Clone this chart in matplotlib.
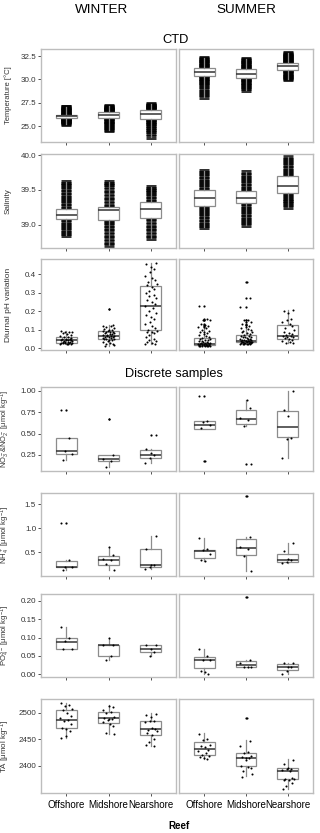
#!/usr/bin/env python3
import matplotlib
import matplotlib.pyplot as plt

matplotlib.use("Agg")

plt.rcParams["font.family"] = ["Liberation Sans", "DejaVu Sans"]
plt.rcParams["mathtext.fontset"] = "custom"
plt.rcParams["mathtext.rm"] = "Liberation Sans"
plt.rcParams["mathtext.it"] = "Liberation Sans:italic"
plt.rcParams["mathtext.bf"] = "Liberation Sans:bold"

REEFS = ["Offshore", "Midshore", "Nearshore"]
SEASONS = ["WINTER", "SUMMER"]

# group order in every list: winter off/mid/near, summer off/mid/near

# CTD: dense clouds, values read as quantiles of each cloud
temp_points = [
    [25.2, 25.3, 25.4, 25.5, 25.6, 25.7, 25.78, 25.82, 25.88, 25.94, 26.0, 26.03, 26.07,
     26.12, 26.18, 26.24, 26.32, 26.4, 26.5, 26.6, 26.7, 26.8, 26.9, 27.0, 27.05],
    [24.57, 24.7, 24.9, 25.1, 25.25, 25.4, 25.55, 25.7, 25.82, 25.95, 26.05, 26.17, 26.27,
     26.38, 26.52, 26.6, 26.68, 26.76, 26.84, 26.92, 27.0, 27.06, 27.13],
    [23.8, 24.3, 24.5, 24.7, 24.9, 25.1, 25.3, 25.45, 25.6, 25.74, 25.9, 26.05, 26.18,
     26.28, 26.4, 26.55, 26.7, 26.8, 26.9, 27.0, 27.1, 27.2, 27.3, 27.4],
    [28.1, 28.4, 28.7, 29.0, 29.3, 29.5, 29.7, 29.85, 30.0, 30.15, 30.32, 30.5, 30.65,
     30.78, 30.9, 31.05, 31.17, 31.3, 31.45, 31.6, 31.75, 31.9, 32.05, 32.2, 32.3],
    [28.9, 29.1, 29.3, 29.45, 29.6, 29.75, 29.9, 30.05, 30.18, 30.3, 30.45, 30.6, 30.72,
     30.85, 30.95, 31.06, 31.2, 31.35, 31.5, 31.65, 31.8, 31.95, 32.1, 32.2],
    [30.0, 30.1, 30.25, 30.4, 30.55, 30.7, 30.85, 30.96, 31.1, 31.25, 31.38, 31.5, 31.62,
     31.78, 31.9, 32.0, 32.1, 32.2, 32.3, 32.4, 32.5, 32.6, 32.7, 32.8],
]
temp_boxes = [(25.82, 26.03, 26.24), (25.82, 26.17, 26.52), (25.74, 26.28, 26.7),
              (30.32, 30.78, 31.17), (30.18, 30.6, 31.06), (30.96, 31.38, 31.78)]

sal_points = [
    [38.85, 38.88, 38.92, 38.96, 39.0, 39.04, 39.08, 39.11, 39.14, 39.18, 39.23, 39.27,
     39.31, 39.35, 39.39, 39.43, 39.47, 39.51, 39.55, 39.58, 39.61],
    [38.71, 38.75, 38.8, 38.85, 38.9, 38.95, 39.0, 39.04, 39.07, 39.12, 39.17, 39.21,
     39.26, 39.3, 39.35, 39.4, 39.45, 39.5, 39.55, 39.59, 39.62],
    [38.81, 38.85, 38.9, 38.95, 39.0, 39.05, 39.09, 39.15, 39.22, 39.28, 39.33, 39.37,
     39.41, 39.45, 39.49, 39.52, 39.54],
    [38.96, 39.0, 39.04, 39.08, 39.12, 39.16, 39.2, 39.24, 39.27, 39.33, 39.39, 39.45,
     39.5, 39.54, 39.58, 39.62, 39.66, 39.7, 39.74, 39.78],
    [38.99, 39.03, 39.07, 39.11, 39.15, 39.19, 39.23, 39.27, 39.31, 39.35, 39.39, 39.43,
     39.48, 39.52, 39.56, 39.6, 39.64, 39.68, 39.72, 39.76],
    [39.26, 39.29, 39.32, 39.35, 39.38, 39.42, 39.45, 39.5, 39.55, 39.62, 39.7, 39.74,
     39.78, 39.82, 39.86, 39.9, 39.94, 39.97],
]
sal_boxes = [(39.08, 39.14, 39.23), (39.07, 39.21, 39.26), (39.09, 39.22, 39.33),
             (39.27, 39.39, 39.5), (39.31, 39.39, 39.48), (39.45, 39.55, 39.7)]

# diurnal pH variation
ph_points = [
    [0.095, 0.09, 0.088, 0.085, 0.08, 0.075, 0.07, 0.065, 0.06, 0.058, 0.055, 0.052, 0.05,
     0.048, 0.046, 0.045, 0.043, 0.042, 0.04, 0.038, 0.036, 0.035, 0.034, 0.032, 0.03,
     0.03, 0.028, 0.027, 0.026, 0.025, 0.024, 0.022, 0.02],
    [0.212, 0.125, 0.12, 0.118, 0.115, 0.11, 0.105, 0.1, 0.098, 0.095, 0.092, 0.09, 0.088,
     0.085, 0.082, 0.08, 0.078, 0.075, 0.072, 0.07, 0.068, 0.066, 0.065, 0.063, 0.06,
     0.058, 0.056, 0.054, 0.052, 0.05, 0.048, 0.045, 0.042, 0.04, 0.035, 0.03, 0.025,
     0.02, 0.015, 0.01],
    [0.46, 0.455, 0.44, 0.43, 0.41, 0.39, 0.38, 0.37, 0.36, 0.35, 0.34, 0.33, 0.32, 0.31,
     0.3, 0.29, 0.28, 0.27, 0.26, 0.25, 0.24, 0.23, 0.22, 0.2, 0.19, 0.18, 0.17, 0.16,
     0.14, 0.13, 0.12, 0.11, 0.1, 0.095, 0.09, 0.085, 0.08, 0.07, 0.06, 0.05, 0.045,
     0.04, 0.035, 0.03, 0.025, 0.02],
    [0.227, 0.158, 0.155, 0.15, 0.13, 0.125, 0.12, 0.115, 0.11, 0.1, 0.095, 0.09, 0.085,
     0.08, 0.075, 0.07, 0.065, 0.06, 0.055, 0.05, 0.048, 0.045, 0.042, 0.04, 0.038,
     0.035, 0.033, 0.03, 0.028, 0.027, 0.026, 0.025, 0.024, 0.023, 0.022, 0.021, 0.02,
     0.019, 0.018, 0.017, 0.016, 0.015, 0.015, 0.014, 0.013, 0.012, 0.012, 0.011, 0.01,
     0.01],
    [0.357, 0.272, 0.225, 0.155, 0.15, 0.14, 0.13, 0.125, 0.12, 0.115, 0.11, 0.105, 0.1,
     0.095, 0.09, 0.085, 0.08, 0.075, 0.07, 0.068, 0.065, 0.062, 0.06, 0.058, 0.055,
     0.052, 0.05, 0.048, 0.046, 0.044, 0.042, 0.041, 0.04, 0.039, 0.038, 0.037, 0.036,
     0.035, 0.034, 0.033, 0.032, 0.031, 0.03, 0.029, 0.028, 0.027, 0.026, 0.025, 0.024,
     0.023, 0.022, 0.021, 0.02],
    [0.209, 0.2, 0.19, 0.16, 0.15, 0.14, 0.13, 0.12, 0.11, 0.1, 0.09, 0.08, 0.075, 0.07,
     0.068, 0.065, 0.06, 0.058, 0.055, 0.05, 0.045, 0.04, 0.035, 0.03, 0.027],
]
# (q1, median, q3, whisker low, whisker high)
ph_boxes = [(0.027, 0.043, 0.059, 0.02, 0.095), (0.049, 0.066, 0.094, 0.01, 0.125),
            (0.10, 0.23, 0.335, 0.02, 0.46), (0.016, 0.025, 0.054, 0.01, 0.11),
            (0.034, 0.041, 0.07, 0.02, 0.12), (0.05, 0.068, 0.128, 0.027, 0.209)]
ph_fliers = [[], [0.212], [], [0.115, 0.12, 0.125, 0.13, 0.15, 0.155, 0.158, 0.227],
             [0.125, 0.13, 0.14, 0.15, 0.155, 0.225, 0.272, 0.357], []]

# discrete samples
no3_points = [[0.78, 0.45, 0.30, 0.26, 0.19], [0.666, 0.25, 0.20, 0.175, 0.11],
              [0.48, 0.32, 0.27, 0.245, 0.21, 0.16], [0.94, 0.65, 0.64, 0.60, 0.56, 0.18],
              [0.89, 0.80, 0.68, 0.66, 0.59, 0.14], [1.0, 0.78, 0.70, 0.45, 0.44, 0.22]]
no3_boxes = [(0.261, 0.30, 0.445, 0.19, 0.445), (0.175, 0.20, 0.25, 0.11, 0.25),
             (0.215, 0.25, 0.31, 0.16, 0.32), (0.55, 0.60, 0.65, 0.55, 0.65),
             (0.61, 0.673, 0.77, 0.59, 0.89), (0.456, 0.58, 0.763, 0.22, 1.0)]
no3_fliers = [[0.78], [0.666], [0.48], [0.94, 0.18], [0.14], []]

nh4_points = [[1.10, 0.33, 0.19, 0.185, 0.12], [0.60, 0.44, 0.35, 0.34, 0.25, 0.12],
              [0.83, 0.56, 0.24, 0.22, 0.19, 0.14], [0.79, 0.57, 0.55, 0.46, 0.33, 0.32],
              [1.67, 0.82, 0.60, 0.56, 0.41, 0.11], [0.70, 0.515, 0.35, 0.34, 0.29, 0.28]]
nh4_boxes = [(0.18, 0.186, 0.318, 0.12, 0.33), (0.22, 0.34, 0.42, 0.12, 0.61),
             (0.19, 0.234, 0.556, 0.143, 0.835), (0.37, 0.52, 0.54, 0.32, 0.79),
             (0.437, 0.578, 0.766, 0.108, 0.82), (0.29, 0.34, 0.47, 0.28, 0.695)]
nh4_fliers = [[1.10], [], [], [], [1.67], []]

po4_points = [[0.13, 0.10, 0.09, 0.07, 0.07], [0.10, 0.08, 0.08, 0.05, 0.04],
              [0.08, 0.08, 0.07, 0.06, 0.05], [0.07, 0.05, 0.04, 0.04, 0.01, 0.005, 0.0],
              [0.21, 0.04, 0.03, 0.02, 0.02, 0.02], [0.03, 0.03, 0.02, 0.02, 0.01, 0.0]]
po4_boxes = [(0.069, 0.089, 0.099, 0.07, 0.13), (0.05, 0.08, 0.08, 0.04, 0.10),
             (0.06, 0.07, 0.08, 0.05, 0.08), (0.017, 0.039, 0.046, 0.0, 0.069),
             (0.019, 0.025, 0.037, 0.02, 0.04), (0.012, 0.019, 0.027, 0.0, 0.03)]
po4_fliers = [[], [], [], [], [0.21], []]

ta_points = [
    [2518, 2515, 2512, 2508, 2505, 2500, 2494, 2490, 2486, 2484, 2478, 2472, 2470, 2465,
     2457, 2453],
    [2513, 2510, 2506, 2502, 2500, 2493, 2491, 2489, 2488, 2486, 2482, 2478, 2476, 2462,
     2460],
    [2498, 2495, 2493, 2484, 2484, 2483, 2472, 2470, 2468, 2466, 2462, 2458, 2450, 2445,
     2440, 2437],
    [2460, 2450, 2448, 2440, 2438, 2436, 2430, 2428, 2424, 2420, 2418, 2416, 2414, 2413],
    [2490, 2446, 2438, 2426, 2424, 2418, 2416, 2415, 2414, 2412, 2400, 2398, 2396, 2390,
     2385, 2380],
    [2411, 2404, 2397, 2395, 2394, 2392, 2390, 2378, 2376, 2375, 2374, 2373, 2368, 2363,
     2356],
]
ta_boxes = [(2471, 2486, 2504.5, 2453, 2519), (2480, 2489.5, 2500.7, 2459.5, 2514),
            (2458.7, 2468.8, 2484.4, 2437, 2499.4), (2420, 2432.5, 2445, 2412.6, 2462),
            (2399.4, 2415, 2425, 2380.7, 2448), (2376, 2390.6, 2396, 2355.6, 2412.6)]
ta_fliers = [[], [], [], [], [2490.6], []]

JITTER = [-0.12, 0.07, -0.03, 0.13, -0.08, 0.02, 0.1, -0.14, 0.05, -0.05, 0.12, -0.1,
          0.0, 0.08, -0.01, -0.13, 0.04, 0.11, -0.06, 0.14, -0.09, 0.03, 0.09, -0.04]

FRAME = "#BDBDBD"
BOXC = "#8C8C8C"


def make_stats(boxes, fliers, points):
    stats = []
    for i, b in enumerate(boxes):
        if len(b) == 3:
            lo, hi = min(points[i]), max(points[i])
        else:
            lo, hi = b[3], b[4]
        stats.append({"q1": b[0], "med": b[1], "q3": b[2], "whislo": lo,
                      "whishi": hi, "fliers": fliers[i] if fliers else []})
    return stats


def draw_row(axes, points, boxes, fliers, ylim, yticks, fmt, ylabel, cloud=False,
             label_size=5.8):
    stats = make_stats(boxes, fliers, points)
    for k, ax in enumerate(axes):
        grp = stats[3 * k:3 * k + 3]
        pts = points[3 * k:3 * k + 3]
        box_z = 3 if cloud else 1
        ax.bxp(grp, positions=[1, 2, 3], widths=0.5, patch_artist=True, showcaps=False,
               zorder=box_z,
               boxprops=dict(facecolor="white", edgecolor=BOXC, linewidth=0.9),
               medianprops=dict(color="#333333", linewidth=1.1),
               whiskerprops=dict(color=BOXC, linewidth=0.9),
               flierprops=dict(marker="o", markersize=1.6, markerfacecolor="black",
                               markeredgecolor="none"))
        for j, vals in enumerate(pts):
            if cloud:
                ax.plot([j + 1] * len(vals), vals, linestyle="none", marker="_",
                        markersize=7.5, markeredgewidth=3.6, color="black", alpha=0.8,
                        zorder=2)
            else:
                xs = [j + 1 + JITTER[(i + 5 * j) % len(JITTER)] for i in range(len(vals))]
                ax.scatter(xs, vals, s=2.2, color="black", linewidths=0, zorder=4)
        ax.set_xlim(0.4, 3.6)
        ax.set_ylim(*ylim)
        ax.set_xticks([1, 2, 3])
        ax.set_xticklabels([])
        ax.set_yticks(yticks)
        for sp in ax.spines.values():
            sp.set_color(FRAME)
            sp.set_linewidth(1.0)
        ax.tick_params(length=2, width=0.6, color="#333333", pad=1.5,
                       labelsize=5.8, labelcolor="#333333")
        if k == 0:
            ax.set_yticklabels([fmt.format(t) for t in yticks])
            ax.set_ylabel(ylabel, fontsize=label_size, color="#333333")
            # x of the label's right edge, in axes units
            ax.yaxis.set_label_coords(-0.215, 0.5)
        else:
            ax.tick_params(left=False, labelleft=False)


fig = plt.figure(figsize=(3.2, 8.33), dpi=100)
W, H = 320.0, 833.0
rows_px = [(49, 142), (154, 248), (259, 350), (387, 471), (493, 576), (594, 677), (699, 793)]
cols_px = [(41, 176), (179, 313)]

grid = []
for top, bot in rows_px:
    row = []
    for l, r in cols_px:
        row.append(fig.add_axes([l / W, 1 - bot / H, (r - l) / W, (bot - top) / H]))
    grid.append(row)

draw_row(grid[0], temp_points, temp_boxes, None, (23.3, 33.25), [25.0, 27.5, 30.0, 32.5],
         "{:.1f}", "Temperature [°C]", cloud=True, label_size=5.5)
draw_row(grid[1], sal_points, sal_boxes, None, (38.66, 40.02), [39.0, 39.5, 40.0],
         "{:.1f}", "Salinity", cloud=True)
draw_row(grid[2], ph_points, ph_boxes, ph_fliers, (-0.01, 0.483), [0.0, 0.1, 0.2, 0.3, 0.4],
         "{:.1f}", "Diurnal pH variation", label_size=6)
draw_row(grid[3], no3_points, no3_boxes, no3_fliers, (0.063, 1.043), [0.25, 0.5, 0.75, 1.0],
         "{:.2f}", r"NO$_3^-$&NO$_2^-$ [μmol kg$^{-1}$]", label_size=5.4)
draw_row(grid[4], nh4_points, nh4_boxes, nh4_fliers, (0.0, 1.737), [0.5, 1.0, 1.5],
         "{:.1f}", r"NH$_4^+$ [μmol kg$^{-1}$]", label_size=5.6)
draw_row(grid[5], po4_points, po4_boxes, po4_fliers, (-0.0075, 0.219),
         [0.0, 0.05, 0.1, 0.15, 0.2], "{:.2f}", r"PO$_4^{3-}$ [μmol kg$^{-1}$]",
         label_size=5.6)
draw_row(grid[6], ta_points, ta_boxes, ta_fliers, (2349, 2526), [2400, 2450, 2500],
         "{:.0f}", r"TA [μmol kg$^{-1}$]", label_size=5.8)

for ax in grid[6]:
    ax.set_xticklabels(REEFS, fontsize=7, color="black")
    ax.tick_params(axis="x", pad=3)

fig.text(102 / W, 1 - 10 / H, SEASONS[0], ha="center", va="center", fontsize=9.7)
fig.text(246 / W, 1 - 10 / H, SEASONS[1], ha="center", va="center", fontsize=9.7)
fig.text(176 / W, 1 - 40 / H, "CTD", ha="center", va="center", fontsize=9.3)
fig.text(174 / W, 1 - 374 / H, "Discrete samples", ha="center", va="center", fontsize=9.2)
fig.text(179 / W, 1 - 826 / H, "Reef", ha="center", va="center", fontsize=7,
         fontweight="bold")

plt.savefig("out.png", dpi=100)
plt.close()
